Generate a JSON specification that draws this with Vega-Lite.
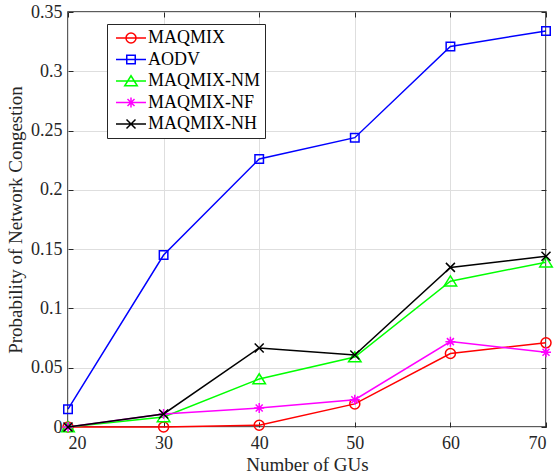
{
  "$schema": "https://vega.github.io/schema/vega-lite/v6.json",
  "width": 478,
  "height": 415,
  "autosize": {"type": "none"},
  "padding": {"left": 68, "top": 12, "right": 10, "bottom": 48},
  "background": "white",
  "data": {"values": [
    {"n": 20, "series": "MAQMIX", "p": 0},
    {"n": 30, "series": "MAQMIX", "p": 0},
    {"n": 40, "series": "MAQMIX", "p": 0.0015},
    {"n": 50, "series": "MAQMIX", "p": 0.0195},
    {"n": 60, "series": "MAQMIX", "p": 0.062},
    {"n": 70, "series": "MAQMIX", "p": 0.071},
    {"n": 20, "series": "AODV", "p": 0.015},
    {"n": 30, "series": "AODV", "p": 0.145},
    {"n": 40, "series": "AODV", "p": 0.226},
    {"n": 50, "series": "AODV", "p": 0.244},
    {"n": 60, "series": "AODV", "p": 0.321},
    {"n": 70, "series": "AODV", "p": 0.334},
    {"n": 20, "series": "MAQMIX-NM", "p": 0},
    {"n": 30, "series": "MAQMIX-NM", "p": 0.0085},
    {"n": 40, "series": "MAQMIX-NM", "p": 0.0405},
    {"n": 50, "series": "MAQMIX-NM", "p": 0.059},
    {"n": 60, "series": "MAQMIX-NM", "p": 0.123},
    {"n": 70, "series": "MAQMIX-NM", "p": 0.139},
    {"n": 20, "series": "MAQMIX-NF", "p": 0},
    {"n": 30, "series": "MAQMIX-NF", "p": 0.011},
    {"n": 40, "series": "MAQMIX-NF", "p": 0.016},
    {"n": 50, "series": "MAQMIX-NF", "p": 0.023},
    {"n": 60, "series": "MAQMIX-NF", "p": 0.072},
    {"n": 70, "series": "MAQMIX-NF", "p": 0.063},
    {"n": 20, "series": "MAQMIX-NH", "p": 0},
    {"n": 30, "series": "MAQMIX-NH", "p": 0.011},
    {"n": 40, "series": "MAQMIX-NH", "p": 0.0667},
    {"n": 50, "series": "MAQMIX-NH", "p": 0.0607},
    {"n": 60, "series": "MAQMIX-NH", "p": 0.1346},
    {"n": 70, "series": "MAQMIX-NH", "p": 0.144}
  ]},
  "config": {
    "font": "Liberation Serif",
    "view": {"stroke": "#262626", "strokeWidth": 1.5},
    "axis": {
      "labelFont": "Liberation Serif",
      "labelFontSize": 18,
      "labelColor": "#262626",
      "titleFont": "Liberation Serif",
      "titleFontSize": 19,
      "titleFontWeight": "normal",
      "titleColor": "#262626",
      "tickColor": "#262626",
      "tickSize": -5,
      "tickWidth": 1,
      "domain": false,
      "gridColor": "#dedede",
      "gridWidth": 1
    },
    "legend": {
      "labelFont": "Liberation Serif",
      "labelFontSize": 18,
      "labelFontWeight": "normal",
      "labelColor": "#000000"
    }
  },
  "layer": [
    {
      "transform": [{"filter": {"field": "series", "equal": "MAQMIX"}}],
      "mark": {"type": "line", "color": "#FF0000", "strokeWidth": 1.5,
        "point": {"shape": "circle", "filled": false, "size": 100, "strokeWidth": 1.5, "color": "#FF0000"}},
      "encoding": {
        "x": {"field": "n", "type": "quantitative", "scale": {"domain": [20, 70], "nice": false, "zero": false},
          "axis": {"values": [20, 30, 40, 50, 60, 70], "grid": true, "title": "Number of GUs", "labelPadding": 12, "titlePadding": 3}},
        "y": {"field": "p", "type": "quantitative", "scale": {"domain": [0, 0.35], "nice": false},
          "axis": {"values": [0, 0.05, 0.1, 0.15, 0.2, 0.25, 0.3, 0.35], "format": ".2~f", "grid": true, "title": "Probability of Network Congestion", "labelPadding": 11, "titlePadding": 5}}
      }
    },
    {
      "transform": [{"filter": {"field": "series", "equal": "AODV"}}],
      "mark": {"type": "line", "color": "#0000FF", "strokeWidth": 1.5,
        "point": {"shape": "M-0.85,-0.85H0.85V0.85H-0.85Z", "filled": false, "size": 100, "strokeWidth": 1.5, "color": "#0000FF"}},
      "encoding": {
        "x": {"field": "n", "type": "quantitative", "scale": {"domain": [20, 70], "nice": false, "zero": false},
          "axis": {"orient": "top", "values": [20, 30, 40, 50, 60, 70], "grid": false, "labels": false, "title": null}},
        "y": {"field": "p", "type": "quantitative", "scale": {"domain": [0, 0.35], "nice": false},
          "axis": {"orient": "right", "values": [0, 0.05, 0.1, 0.15, 0.2, 0.25, 0.3, 0.35], "grid": false, "labels": false, "title": null}}
      }
    },
    {
      "transform": [{"filter": {"field": "series", "equal": "MAQMIX-NM"}}],
      "mark": {"type": "line", "color": "#00FF00", "strokeWidth": 1.5,
        "point": {"shape": "M0,-1.05L1.25,0.95L-1.25,0.95Z", "filled": false, "size": 100, "strokeWidth": 1.5, "color": "#00FF00"}},
      "encoding": {
        "x": {"field": "n", "type": "quantitative", "axis": null},
        "y": {"field": "p", "type": "quantitative", "axis": null}
      }
    },
    {
      "transform": [{"filter": {"field": "series", "equal": "MAQMIX-NF"}}],
      "mark": {"type": "line", "color": "#FF00FF", "strokeWidth": 1.5,
        "point": {"shape": "M-1,0H1M0,-1V1M-0.7,-0.7L0.7,0.7M-0.7,0.7L0.7,-0.7", "filled": false, "size": 100, "strokeWidth": 1.5, "color": "#FF00FF"}},
      "encoding": {
        "x": {"field": "n", "type": "quantitative", "axis": null},
        "y": {"field": "p", "type": "quantitative", "axis": null}
      }
    },
    {
      "transform": [{"filter": {"field": "series", "equal": "MAQMIX-NH"}}],
      "mark": {"type": "line", "color": "#000000", "strokeWidth": 1.5,
        "point": {"shape": "M-0.9,-0.9L0.9,0.9M-0.9,0.9L0.9,-0.9", "filled": false, "size": 100, "strokeWidth": 1.5, "color": "#000000"}},
      "encoding": {
        "x": {"field": "n", "type": "quantitative", "axis": null},
        "y": {"field": "p", "type": "quantitative", "axis": null}
      }
    },
    {
      "transform": [{"filter": {"field": "series", "equal": "none"}}],
      "mark": {"type": "point", "filled": false, "size": 100, "strokeWidth": 1.5},
      "encoding": {
        "x": {"field": "n", "type": "quantitative", "axis": null},
        "y": {"field": "p", "type": "quantitative", "axis": null},
        "color": {"field": "series", "type": "nominal",
          "scale": {"domain": ["MAQMIX", "AODV", "MAQMIX-NM", "MAQMIX-NF", "MAQMIX-NH"], "range": ["#FF0000", "#0000FF", "#00FF00", "#FF00FF", "#000000"]},
          "legend": {"title": null, "orient": "none", "legendX": 39, "legendY": 12, "symbolSize": 100, "symbolStrokeWidth": 1.5, "symbolOpacity": 1,
            "labelFont": "Liberation Serif", "labelFontSize": 18, "labelFontWeight": "normal", "labelColor": "#000000", "labelLimit": 300,
            "strokeColor": "#262626", "fillColor": "white", "padding": 5, "rowPadding": 3.5, "symbolOffset": 10, "labelOffset": 8}},
        "shape": {"field": "series", "type": "nominal",
          "scale": {"domain": ["MAQMIX", "AODV", "MAQMIX-NM", "MAQMIX-NF", "MAQMIX-NH"],
            "range": [
              "M-3,0H3M-1,0A1,1,0,1,1,1,0A1,1,0,1,1,-1,0",
              "M-3,0H3M-0.85,-0.85H0.85V0.85H-0.85Z",
              "M-3,0H3M0,-1.05L1.25,0.95L-1.25,0.95Z",
              "M-3,0H3M0,-1V1M-0.7,-0.7L0.7,0.7M-0.7,0.7L0.7,-0.7",
              "M-3,0H3M-0.9,-0.9L0.9,0.9M-0.9,0.9L0.9,-0.9"
            ]},
          "legend": {"title": null, "orient": "none", "legendX": 39, "legendY": 12, "symbolSize": 100, "symbolStrokeWidth": 1.5, "symbolOpacity": 1,
            "labelFont": "Liberation Serif", "labelFontSize": 18, "labelFontWeight": "normal", "labelColor": "#000000", "labelLimit": 300,
            "strokeColor": "#262626", "fillColor": "white", "padding": 5, "rowPadding": 3.5, "symbolOffset": 10, "labelOffset": 8}}
      }
    }
  ],
  "resolve": {"axis": {"x": "independent", "y": "independent"}}
}
